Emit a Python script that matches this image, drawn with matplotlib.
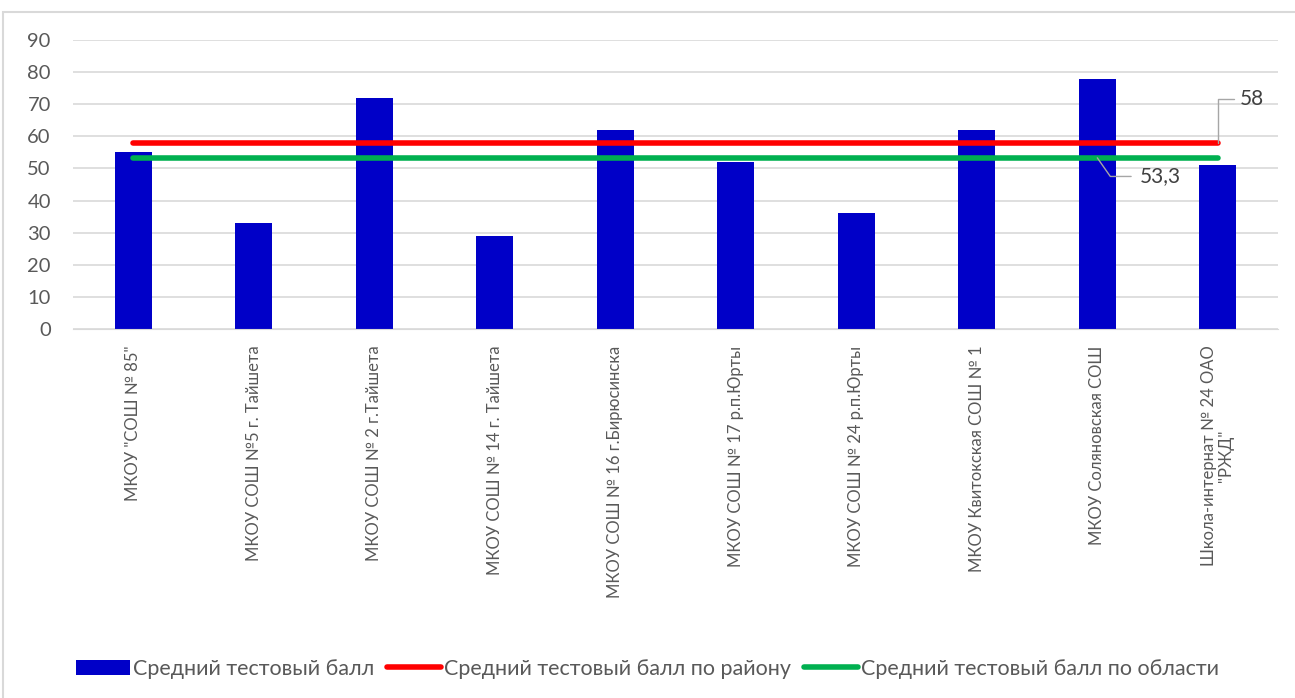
import matplotlib.pyplot as plt
from matplotlib.patches import Rectangle

schools = [
    'МКОУ "СОШ № 85"',
    'МКОУ СОШ №5 г. Тайшета',
    'МКОУ СОШ № 2 г.Тайшета',
    'МКОУ СОШ № 14 г. Тайшета',
    'МКОУ СОШ № 16 г.Бирюсинска',
    'МКОУ СОШ № 17 р.п.Юрты',
    'МКОУ СОШ № 24 р.п.Юрты',
    'МКОУ Квитокская СОШ № 1',
    'МКОУ Соляновская СОШ',
    'Школа-интернат № 24 ОАО\n"РЖД"',
]
scores = [55, 33, 72, 29, 62, 52, 36, 62, 78, 51]
district_avg = 58
region_avg = 53.3

plt.rcParams['font.family'] = ['Lato', 'DejaVu Sans']

fig = plt.figure(figsize=(12.95, 6.98), dpi=100)
ax = fig.add_axes([0.0564, 0.5287, 0.9305, 0.414])

# chart border
fig.patches.append(Rectangle((3 / 1295, -0.01), 1.2, 1 - 12 / 698 + 0.01,
                             transform=fig.transFigure, fill=False,
                             edgecolor='#d9d9d9', linewidth=1.5))

x = list(range(len(schools)))
bars = ax.bar(x, scores, width=0.31, color='#0000c8', zorder=2)
red, = ax.plot(x, [district_avg] * len(x), color='#ff0000', linewidth=4,
               solid_capstyle='round', zorder=3)
green, = ax.plot(x, [region_avg] * len(x), color='#00b050', linewidth=4,
                 solid_capstyle='round', zorder=3)

ax.set_xlim(-0.5, len(x) - 0.5)
ax.set_ylim(0, 90)
ax.set_yticks(range(0, 91, 10))
ax.yaxis.grid(True, color='#d9d9d9', linewidth=1.2)
ax.set_axisbelow(True)
for s in ax.spines.values():
    s.set_visible(False)
ax.spines['bottom'].set_visible(True)
ax.spines['bottom'].set_color('#d9d9d9')
ax.tick_params(axis='both', length=0, colors='#595959')
ax.tick_params(axis='y', labelsize=14.5, pad=16)
ax.set_xticks(x)
ax.set_xticklabels(schools, rotation=90, fontsize=12, va='top', ha='center',
                   linespacing=1.1)
ax.tick_params(axis='x', pad=12)

# data labels with leader lines
ax.annotate(f'{district_avg:g}'.replace('.', ','), xy=(9, district_avg),
            xytext=(9.18, 71.5), fontsize=15, color='#404040', va='center',
            arrowprops=dict(arrowstyle='-', color='#a6a6a6', lw=1,
                            connectionstyle='angle,angleA=0,angleB=90,rad=0',
                            shrinkA=2, shrinkB=0))
ax.annotate(f'{region_avg:g}'.replace('.', ','), xy=(8, region_avg),
            xytext=(8.35, 47.5), fontsize=15, color='#404040', va='center',
            arrowprops=dict(arrowstyle='-', color='#a6a6a6', lw=1,
                            connectionstyle='angle,angleA=0,angleB=-55,rad=0',
                            shrinkA=4, shrinkB=0))

fig.legend([bars, red, green],
           ['Средний тестовый балл', 'Средний тестовый балл по району',
            'Средний тестовый балл по области'],
           loc='center', bbox_to_anchor=(0.5, 0.042), ncol=3, frameon=False,
           fontsize=15.5, handlelength=2.5, handletextpad=0.15, columnspacing=0.6,
           labelcolor='#595959')

fig.savefig('out.png', dpi=100)
